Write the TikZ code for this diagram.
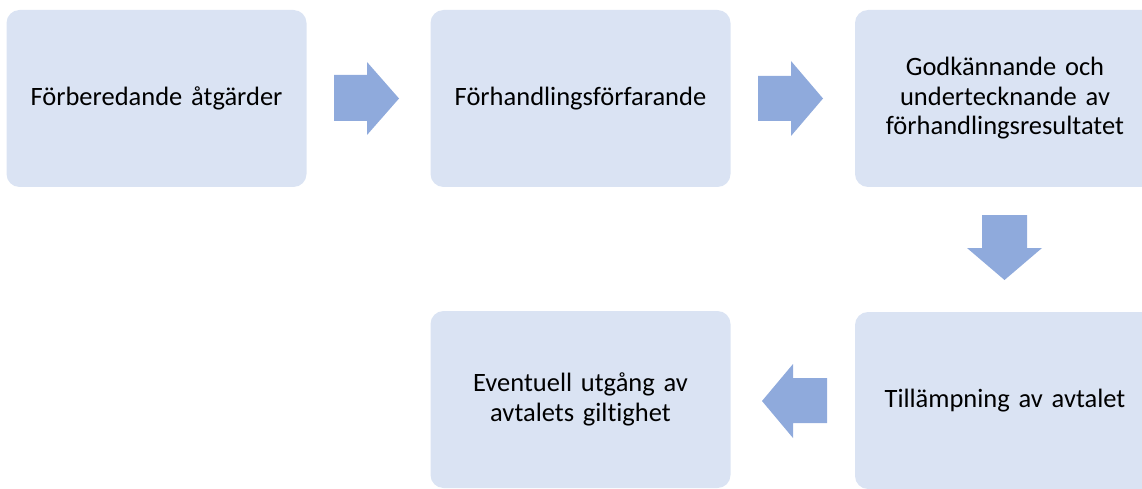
\documentclass[tikz,border=0pt]{standalone}
\usepackage{fontspec}
\setmainfont{Carlito}[Ligatures={NoCommon}]
\definecolor{boxfill}{HTML}{DAE3F3}
\definecolor{arrfill}{HTML}{8FAADC}
\tikzset{
  stagebox/.style={fill=boxfill, draw=none, rounded corners=13pt, minimum width=300pt, minimum height=177pt, align=center, inner sep=0pt, text width=280pt, font=\fontsize{26.5}{29.5}\selectfont, text=black},
  blockarrow/.style={fill=arrfill, draw=none}
}
\begin{document}
\begin{tikzpicture}[x=1pt,y=-1pt]
\useasboundingbox (0,0) rectangle (1142,489);
\clip (0,0) rectangle (1142,489);
\node[stagebox] (b1) at (156.5,98.5) {Förberedande åtgärder};
\node[stagebox] (b2) at (580.5,98.5) {Förhandlingsförfarande};
\node[stagebox] (b3) at (1005,98.5) {Godkännande och\\ undertecknande av\\ förhandlingsresultatet};
\node[stagebox] (b4) at (1005,400.5) {Tillämpning av avtalet};
\node[stagebox] (b5) at (580.5,399.5) {Eventuell utgång av\\ avtalets giltighet};
% right arrow 1
\fill[blockarrow] (334,75) -- (367,75) -- (367,62) -- (399,98.5) -- (367,135) -- (367,121) -- (334,121) -- cycle;
% right arrow 2
\fill[blockarrow] (758,76) -- (791,76) -- (791,61) -- (823,98.5) -- (791,136) -- (791,121) -- (758,121) -- cycle;
% down arrow
\fill[blockarrow] (982,215) -- (1027,215) -- (1027,248) -- (1042,248) -- (1004.5,280) -- (967,248) -- (982,248) -- cycle;
% left arrow
\fill[blockarrow] (827,378) -- (793,378) -- (793,364) -- (762,401) -- (793,438) -- (793,423) -- (827,423) -- cycle;
\end{tikzpicture}
\end{document}
